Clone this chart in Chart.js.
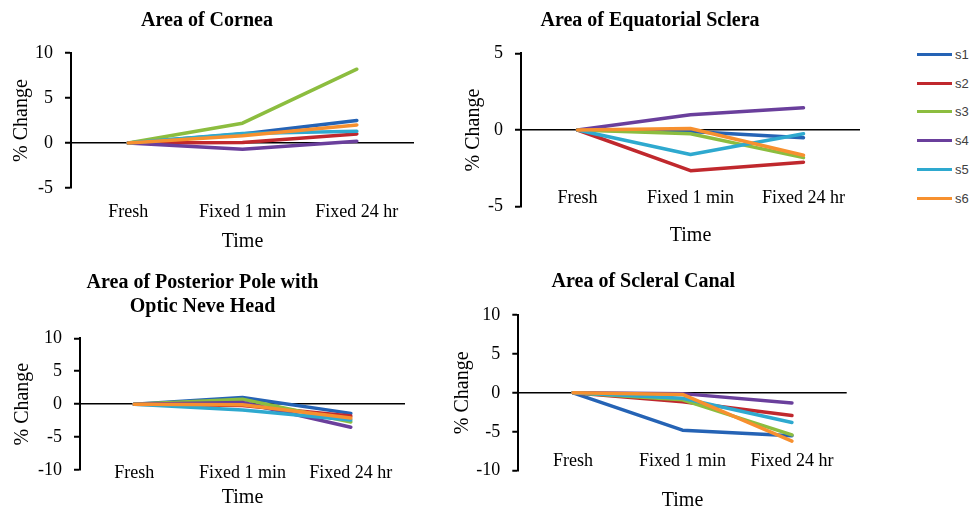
<!DOCTYPE html>
<html>
<head>
<meta charset="utf-8">
<script src="https://cdn.jsdelivr.net/npm/chart.js@4.4.0/dist/chart.umd.min.js"></script>
<style>
    body { margin: 0; background: #fff; }
    #page { position: relative; width: 974px; height: 510px; overflow: hidden; }
    #page canvas { position: absolute; }
    #legend {
        position: absolute; left: 917px; top: 40px;
        font: 13px "Liberation Sans", Arial, sans-serif; color: #404040;
    }
    .legend-item { display: flex; align-items: center; height: 28.8px; }
    .legend-line { width: 35px; height: 3px; margin-right: 3px; }
</style>
</head>
<body>
<div id="page">
    <canvas id="cornea"></canvas>
    <canvas id="equatorial"></canvas>
    <canvas id="posterior"></canvas>
    <canvas id="canal"></canvas>
    <div id="legend"></div>
</div>
<script>
// Data
const timePoints = ['Fresh', 'Fixed 1 min', 'Fixed 24 hr'];
const seriesNames = ['s1', 's2', 's3', 's4', 's5', 's6'];
const seriesColors = ['#2563b5', '#c0282d', '#8cbd3f', '#6a3f9c', '#2ea9cf', '#f7902f'];

// % change per series (s1..s6) at each time point
const corneaChange = [
    [0, 1.0, 2.5],
    [0, 0.05, 1.0],
    [0, 2.2, 8.2],
    [0, -0.7, 0.2],
    [0, 1.05, 1.3],
    [0, 0.8, 2.0]
];
const equatorialChange = [
    [0, -0.1, -0.5],
    [0, -2.65, -2.1],
    [0, -0.25, -1.8],
    [0, 1.0, 1.45],
    [0, -1.6, -0.25],
    [0, 0.1, -1.65]
];
const posteriorChange = [
    [0, 1.0, -1.4],
    [0, -0.2, -1.8],
    [0, 0.75, -2.7],
    [0, 0.25, -3.5],
    [0, -0.9, -2.4],
    [0, -0.1, -2.1]
];
const canalChange = [
    [0, -4.8, -5.5],
    [0, -1.15, -2.9],
    [0, -0.9, -5.4],
    [0, -0.1, -1.3],
    [0, -0.7, -3.8],
    [0, -0.2, -6.2]
];

const SERIF = '"Liberation Serif", "Times New Roman", serif';

function makePanel(id, title, values, yMin, yMax, box) {
    const canvas = document.getElementById(id);
    canvas.width = box.width;
    canvas.height = box.height;
    canvas.style.left = box.left + 'px';
    canvas.style.top = box.top + 'px';

    return new Chart(canvas.getContext('2d'), {
        type: 'line',
        data: {
            labels: timePoints,
            datasets: values.map((vals, i) => ({
                label: seriesNames[i],
                data: vals,
                borderColor: seriesColors[i],
                backgroundColor: seriesColors[i],
                borderWidth: 3.5,
                borderCapStyle: 'round',
                borderJoinStyle: 'round',
                pointRadius: 0,
                tension: 0,
                order: values.length - i
            }))
        },
        options: {
            responsive: false,
            animation: false,
            devicePixelRatio: 1,
            layout: { padding: { left: 0, top: 0, bottom: 0, right: box.padRight } },
            plugins: {
                legend: { display: false },
                tooltip: { enabled: false },
                title: {
                    display: true,
                    text: title,
                    color: '#000',
                    font: { family: SERIF, size: 20, weight: 'bold' },
                    padding: { top: box.titlePad[0], bottom: box.titlePad[1] }
                }
            },
            scales: {
                x: {
                    offset: true,
                    grid: { display: false, drawTicks: false },
                    border: { display: false },
                    ticks: {
                        // mirrored so the labels may sit inside the plot area, as in the original
                        mirror: true,
                        color: '#000',
                        font: { family: SERIF, size: 18 },
                        padding: box.xTickPad,
                        maxRotation: 0,
                        autoSkip: false
                    },
                    title: {
                        display: true,
                        text: 'Time',
                        color: '#000',
                        font: { family: SERIF, size: 20 },
                        padding: { top: 0, bottom: box.xTitlePad }
                    },
                    afterFit: s => { s.height = box.xAxisH; }
                },
                y: {
                    min: yMin,
                    max: yMax,
                    border: { display: true, color: '#000', width: 2 },
                    grid: {
                        color: c => (c.tick && c.tick.value === 0 ? '#000' : 'rgba(0,0,0,0)'),
                        lineWidth: 1.5,
                        drawTicks: true,
                        tickLength: 6,
                        tickColor: '#000',
                        tickWidth: 2
                    },
                    ticks: {
                        stepSize: 5,
                        color: '#000',
                        font: { family: SERIF, size: 18 },
                        padding: 12
                    },
                    title: {
                        display: true,
                        text: '% Change',
                        color: '#000',
                        font: { family: SERIF, size: 20 },
                        padding: { top: box.yTitlePad, bottom: 0 }
                    },
                    afterFit: s => { s.width = box.yAxisW; }
                }
            }
        }
    });
}

makePanel('cornea', 'Area of Cornea', corneaChange, -5, 10, {
    left: 0, top: 0, width: 420, height: 260,
    yAxisW: 71, xAxisH: 72, padRight: 6,
    titlePad: [9, 20], yTitlePad: 10, xTickPad: -34.8, xTitlePad: 6
});

makePanel('equatorial', 'Area of Equatorial Sclera', equatorialChange, -5, 5, {
    left: 440, top: 0, width: 437, height: 260,
    yAxisW: 81, xAxisH: 53.3, padRight: 17,
    titlePad: [9, 20.3], yTitlePad: 21.5, xTickPad: -2.1, xTitlePad: 12
});

makePanel('posterior', ['Area of Posterior Pole with', 'Optic Neve Head'], posteriorChange, -10, 10, {
    left: 0, top: 260, width: 434, height: 250,
    yAxisW: 80, xAxisH: 40, padRight: 29,
    titlePad: [10.7, 19.6], yTitlePad: 10.5, xTickPad: -13.8, xTitlePad: 0.5
});

makePanel('canal', 'Area of Scleral Canal', canalChange, -10, 10, {
    left: 440, top: 260, width: 467, height: 254,
    yAxisW: 78.3, xAxisH: 43.3, padRight: 60.3,
    titlePad: [9.7, 21.3], yTitlePad: 10.5, xTickPad: -1.8, xTitlePad: 1
});

// Shared legend
const legend = document.getElementById('legend');
seriesNames.forEach((name, i) => {
    const item = document.createElement('div');
    item.className = 'legend-item';
    item.innerHTML = `<span class="legend-line" style="background:${seriesColors[i]}"></span><span>${name}</span>`;
    legend.appendChild(item);
});
</script>
</body>
</html>
